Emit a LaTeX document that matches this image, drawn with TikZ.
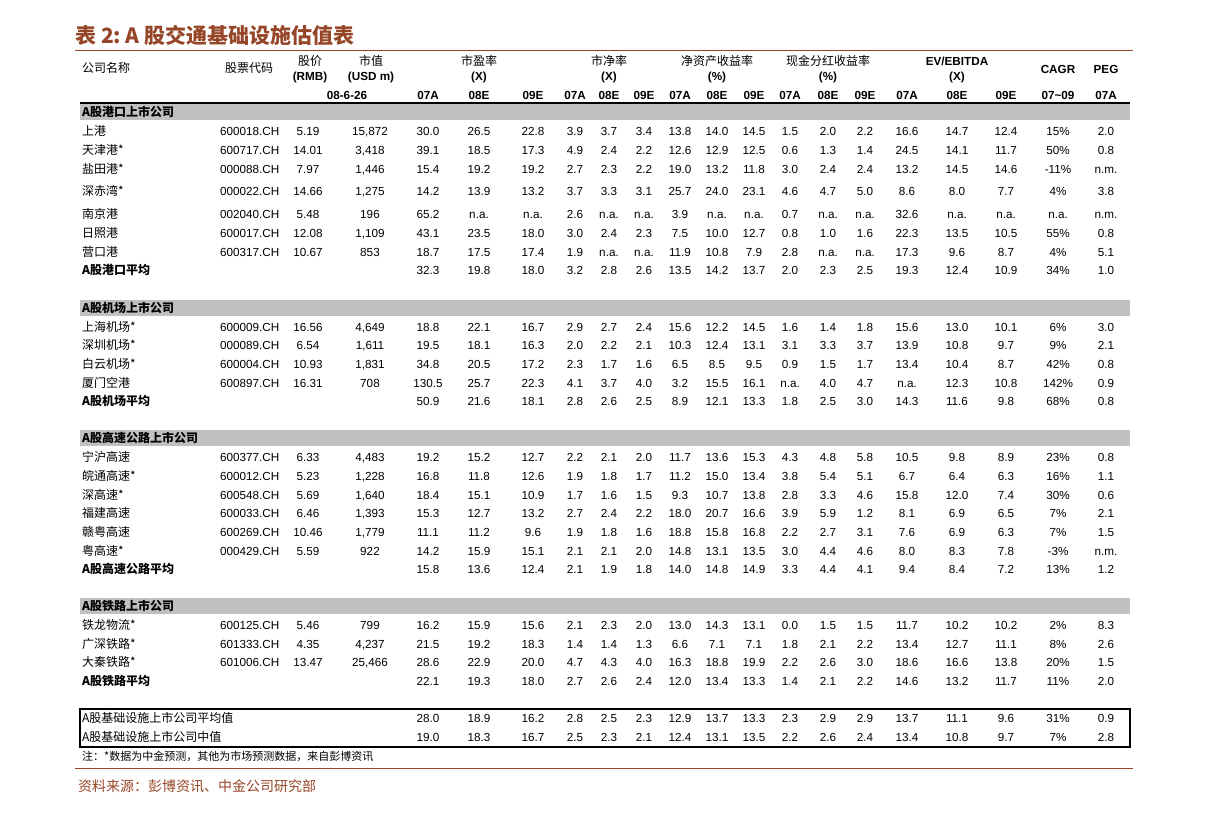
\documentclass[tikz,border=0pt]{standalone}
\usepackage{fontspec}
\setmainfont{Liberation Sans}
\newfontfamily\cjk{Noto Sans CJK SC}
\definecolor{titlebrown}{RGB}{150,70,40}
\definecolor{bandgray}{RGB}{192,192,192}
\tikzset{
  cell/.style={inner sep=0pt,anchor=base,font=\fontsize{11.7}{12}\selectfont},
  hd/.style={cell,font=\fontsize{11.7}{12}\selectfont\bfseries},
  zh/.style={cell,anchor=base west,font=\fontsize{12}{12}\cjk},
  zhb/.style={cell,anchor=base west,font=\fontsize{12}{12}\cjk\bfseries}
}
\def\colx{308,370,428,479,533,575,609,644,680,717,754,790,828,865,907,957,1006,1058,1106}
% one table row: y, name, code, values
\newcommand\trow[4]{%
  \node[zh] (n-#1) at (82,#1+4.5) {#2};
  \node[cell,anchor=base west] (c-#1) at (220,#1+4.5) {#3};
  \foreach \v [count=\i] in {#4} {
    \pgfmathparse{{\colx}[\i-1]}
    \node[cell] (v-#1-\i) at (\pgfmathresult,#1+4.5) {\v};
  }}
% average row (bold name, no price/cap)
\newcommand\arow[3]{%
  \node[zhb] (n-#1) at (82,#1+4.5) {#2};
  \foreach \v [count=\i from 3] in {#3} {
    \pgfmathparse{{\colx}[\i-1]}
    \node[cell] (v-#1-\i) at (\pgfmathresult,#1+4.5) {\v};
  }}
\newcommand\band[2]{%
  \fill[bandgray] (80,#1-8) rectangle (1130,#1+8);
  \node[zhb] (s-#1) at (82,#1+4.5) {#2};}
\begin{document}
\begin{tikzpicture}[x=1pt,y=-1pt]
\useasboundingbox (0,0) rectangle (1224,814);

% title
\node[anchor=base west,inner sep=0pt,text=titlebrown,font=\fontsize{21}{21}\cjk\bfseries] (title) at (75,43) {表 2:\ A 股交通基础设施估值表};
\draw[titlebrown] (75,50) -- (1133,50);

% header
\node[zh] (h-name) at (82,72) {公司名称};
\node[zh,anchor=base] (h-code) at (249,72) {股票代码};
\node[zh,anchor=base] (h-p1) at (310,65) {股价};
\node[hd] (h-p2) at (310,80) {(RMB)};
\node[zh,anchor=base] (h-m1) at (371,65) {市值};
\node[hd] (h-m2) at (371,80) {(USD m)};
\node[zh,anchor=base] (h-pe1) at (479,65) {市盈率};
\node[hd] (h-pe2) at (479,80) {(X)};
\node[zh,anchor=base] (h-pb1) at (609,65) {市净率};
\node[hd] (h-pb2) at (609,80) {(X)};
\node[zh,anchor=base] (h-roe1) at (717,65) {净资产收益率};
\node[hd] (h-roe2) at (717,80) {(\%)};
\node[zh,anchor=base] (h-dy1) at (828,65) {现金分红收益率};
\node[hd] (h-dy2) at (828,80) {(\%)};
\node[hd] (h-ev1) at (957,65) {EV/EBITDA};
\node[hd] (h-ev2) at (957,80) {(X)};
\node[hd] (h-cagr) at (1058,73) {CAGR};
\node[hd] (h-peg) at (1106,73) {PEG};
\node[hd] (h-date) at (347,99) {08-6-26};
\foreach \t [count=\i from 3] in {07A,08E,09E,07A,08E,09E,07A,08E,09E,07A,08E,09E,07A,08E,09E,07\textasciitilde09,07A} {
  \pgfmathparse{{\colx}[\i-1]}
  \node[hd] (h-y\i) at (\pgfmathresult,99) {\t};
}
\draw[line width=2pt] (80,103) -- (1130,103);

% ports
\band{112}{A股港口上市公司}
\trow{131}{上港}{600018.CH}{5.19,{15,872},30.0,26.5,22.8,3.9,3.7,3.4,13.8,14.0,14.5,1.5,2.0,2.2,16.6,14.7,12.4,15\%,2.0}
\trow{150}{天津港*}{600717.CH}{14.01,{3,418},39.1,18.5,17.3,4.9,2.4,2.2,12.6,12.9,12.5,0.6,1.3,1.4,24.5,14.1,11.7,50\%,0.8}
\trow{169}{盐田港*}{000088.CH}{7.97,{1,446},15.4,19.2,19.2,2.7,2.3,2.2,19.0,13.2,11.8,3.0,2.4,2.4,13.2,14.5,14.6,-11\%,n.m.}
\trow{191}{深赤湾*}{000022.CH}{14.66,{1,275},14.2,13.9,13.2,3.7,3.3,3.1,25.7,24.0,23.1,4.6,4.7,5.0,8.6,8.0,7.7,4\%,3.8}
\trow{214}{南京港}{002040.CH}{5.48,196,65.2,n.a.,n.a.,2.6,n.a.,n.a.,3.9,n.a.,n.a.,0.7,n.a.,n.a.,32.6,n.a.,n.a.,n.a.,n.m.}
\trow{233}{日照港}{600017.CH}{12.08,{1,109},43.1,23.5,18.0,3.0,2.4,2.3,7.5,10.0,12.7,0.8,1.0,1.6,22.3,13.5,10.5,55\%,0.8}
\trow{252}{营口港}{600317.CH}{10.67,853,18.7,17.5,17.4,1.9,n.a.,n.a.,11.9,10.8,7.9,2.8,n.a.,n.a.,17.3,9.6,8.7,4\%,5.1}
\arow{270}{A股港口平均}{32.3,19.8,18.0,3.2,2.8,2.6,13.5,14.2,13.7,2.0,2.3,2.5,19.3,12.4,10.9,34\%,1.0}

% airports
\band{308}{A股机场上市公司}
\trow{327}{上海机场*}{600009.CH}{16.56,{4,649},18.8,22.1,16.7,2.9,2.7,2.4,15.6,12.2,14.5,1.6,1.4,1.8,15.6,13.0,10.1,6\%,3.0}
\trow{345}{深圳机场*}{000089.CH}{6.54,{1,611},19.5,18.1,16.3,2.0,2.2,2.1,10.3,12.4,13.1,3.1,3.3,3.7,13.9,10.8,9.7,9\%,2.1}
\trow{364}{白云机场*}{600004.CH}{10.93,{1,831},34.8,20.5,17.2,2.3,1.7,1.6,6.5,8.5,9.5,0.9,1.5,1.7,13.4,10.4,8.7,42\%,0.8}
\trow{383}{厦门空港}{600897.CH}{16.31,708,130.5,25.7,22.3,4.1,3.7,4.0,3.2,15.5,16.1,n.a.,4.0,4.7,n.a.,12.3,10.8,142\%,0.9}
\arow{401}{A股机场平均}{50.9,21.6,18.1,2.8,2.6,2.5,8.9,12.1,13.3,1.8,2.5,3.0,14.3,11.6,9.8,68\%,0.8}

% highways
\band{438}{A股高速公路上市公司}
\trow{457}{宁沪高速}{600377.CH}{6.33,{4,483},19.2,15.2,12.7,2.2,2.1,2.0,11.7,13.6,15.3,4.3,4.8,5.8,10.5,9.8,8.9,23\%,0.8}
\trow{476}{皖通高速*}{600012.CH}{5.23,{1,228},16.8,11.8,12.6,1.9,1.8,1.7,11.2,15.0,13.4,3.8,5.4,5.1,6.7,6.4,6.3,16\%,1.1}
\trow{495}{深高速*}{600548.CH}{5.69,{1,640},18.4,15.1,10.9,1.7,1.6,1.5,9.3,10.7,13.8,2.8,3.3,4.6,15.8,12.0,7.4,30\%,0.6}
\trow{513}{福建高速}{600033.CH}{6.46,{1,393},15.3,12.7,13.2,2.7,2.4,2.2,18.0,20.7,16.6,3.9,5.9,1.2,8.1,6.9,6.5,7\%,2.1}
\trow{532}{赣粤高速}{600269.CH}{10.46,{1,779},11.1,11.2,9.6,1.9,1.8,1.6,18.8,15.8,16.8,2.2,2.7,3.1,7.6,6.9,6.3,7\%,1.5}
\trow{551}{粤高速*}{000429.CH}{5.59,922,14.2,15.9,15.1,2.1,2.1,2.0,14.8,13.1,13.5,3.0,4.4,4.6,8.0,8.3,7.8,-3\%,n.m.}
\arow{569}{A股高速公路平均}{15.8,13.6,12.4,2.1,1.9,1.8,14.0,14.8,14.9,3.3,4.4,4.1,9.4,8.4,7.2,13\%,1.2}

% railways
\band{606}{A股铁路上市公司}
\trow{625}{铁龙物流*}{600125.CH}{5.46,799,16.2,15.9,15.6,2.1,2.3,2.0,13.0,14.3,13.1,0.0,1.5,1.5,11.7,10.2,10.2,2\%,8.3}
\trow{644}{广深铁路*}{601333.CH}{4.35,{4,237},21.5,19.2,18.3,1.4,1.4,1.3,6.6,7.1,7.1,1.8,2.1,2.2,13.4,12.7,11.1,8\%,2.6}
\trow{662}{大秦铁路*}{601006.CH}{13.47,{25,466},28.6,22.9,20.0,4.7,4.3,4.0,16.3,18.8,19.9,2.2,2.6,3.0,18.6,16.6,13.8,20\%,1.5}
\arow{681}{A股铁路平均}{22.1,19.3,18.0,2.7,2.6,2.4,12.0,13.4,13.3,1.4,2.1,2.2,14.6,13.2,11.7,11\%,2.0}

% overall
\draw[line width=1.5pt] (80,709) rectangle (1130,747);
\node[zh] (n-718) at (82,722.5) {A股基础设施上市公司平均值};
\node[zh] (n-737) at (82,741.5) {A股基础设施上市公司中值};
\arow{718}{}{28.0,18.9,16.2,2.8,2.5,2.3,12.9,13.7,13.3,2.3,2.9,2.9,13.7,11.1,9.6,31\%,0.9}
\arow{737}{}{19.0,18.3,16.7,2.5,2.3,2.1,12.4,13.1,13.5,2.2,2.6,2.4,13.4,10.8,9.7,7\%,2.8}
\node[zh,font=\fontsize{11}{11}\cjk] (note) at (82,760) {注：*数据为中金预测，其他为市场预测数据，来自彭博资讯};

% source
\draw[titlebrown] (75,768) -- (1133,768);
\node[zh,text=titlebrown,font=\fontsize{14}{14}\cjk] (source) at (78,791) {资料来源：彭博资讯、中金公司研究部};
\end{tikzpicture}
\end{document}
